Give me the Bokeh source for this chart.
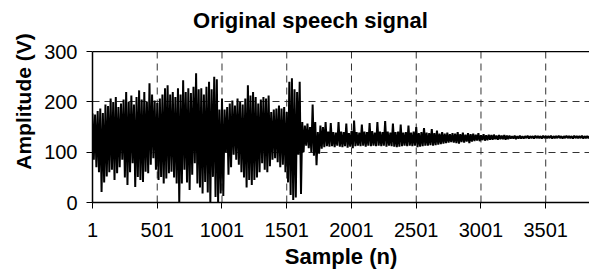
from bokeh.plotting import figure
from bokeh.models import FixedTicker, Range1d, Span, ColumnDataSource, Label
from bokeh.embed import file_html
from bokeh.resources import INLINE

# Chart data
title_text = "Original speech signal"
x_label = "Sample (n)"
y_label = "Amplitude (V)"
x_ticks = [1, 501, 1001, 1501, 2001, 2501, 3001, 3501]
y_ticks = [0, 100, 200, 300]
sample_step = 10  # one reading every 10 samples, starting at sample 1

# amplitude readings: alternating local peak / trough of the signal
amplitude = [
    177, 85, 175, 70, 182, 60, 187, 21, 178, 40, 195, 52, 192, 60, 207, 65,
    200, 45, 210, 58, 190, 70, 197, 85, 205, 50, 220, 35, 200, 60, 213, 78,
    195, 31, 210, 51, 223, 45, 205, 41, 220, 61, 200, 58, 237, 75, 215, 88,
    203, 65, 198, 45, 207, 51, 215, 38, 227, 48, 233, 58, 215, 61, 220, 50,
    210, 38, 227, 0, 215, 38, 243, 65, 220, 40, 227, 25, 218, 55, 230, 78,
    257, 38, 225, 30, 227, 18, 215, 41, 230, 20, 240, 0, 225, 51, 250, 11,
    245, 0, 185, 18, 207, 13, 185, 100, 190, 55, 197, 70, 203, 95, 193, 85,
    207, 75, 200, 60, 195, 50, 207, 30, 233, 45, 213, 35, 220, 45, 210, 50,
    197, 60, 205, 78, 210, 65, 207, 60, 213, 72, 180, 85, 185, 88, 187, 80,
    193, 70, 187, 75, 190, 60, 180, 40, 240, 15, 247, 5, 225, 10, 220, 95,
    240, 17, 160, 100, 153, 113, 157, 108, 150, 100, 195, 93, 160, 74, 140, 97,
    153, 107, 150, 110, 160, 112,
    141, 111, 158, 112, 140, 110, 139, 113, 160, 111, 141, 110, 140, 112,
    157, 109, 138, 111, 142, 108, 163, 112, 140, 113, 139, 112, 155, 113,
    141, 111, 140, 113, 158, 112, 142, 113, 139, 112, 160, 113, 141, 112,
    140, 113, 162, 111, 141, 113, 139, 112, 157, 111, 140, 110, 141, 111,
    155, 112, 139, 113, 140, 112, 153, 113, 139, 112, 141, 113, 150, 110,
    138, 111, 140, 112, 148, 113, 139, 113, 138, 114, 146, 113, 138, 114,
    143, 115, 137, 116, 140, 117, 137, 118, 139, 119, 136, 120, 138, 119,
    137, 118, 140, 117, 136, 120, 139, 119, 135, 121, 138, 118, 136, 121,
    137, 122, 135, 123, 138, 122, 134, 124, 136, 123, 134, 124, 135, 125,
    134, 125, 135, 126, 133, 125, 134, 126, 133, 126, 134, 125, 133, 126,
    133, 127, 132, 127, 133, 126, 132, 127, 133, 127, 132, 127, 132, 128,
    133, 127, 132, 128, 132, 127, 133, 128, 132, 128, 132, 127, 133, 128,
    132, 128, 132, 128, 133, 127, 132, 128, 132, 128, 133, 128, 132, 127,
    132, 128, 133, 128, 132, 128, 132, 127, 133, 128, 132, 128, 132, 128,
    133, 127, 132, 128, 132, 128, 132, 128,
]

samples = [1 + sample_step * i for i in range(len(amplitude))]
source = ColumnDataSource(data=dict(n=samples, v=amplitude))

FONT = "Liberation Sans"
y_max = y_ticks[-1]

# The frame reaches the top of the canvas; the part above 300 holds the title.
p = figure(
    width=589, height=277,
    output_backend="svg", toolbar_location=None,
    x_range=Range1d(1, 3839), y_range=Range1d(0, 401.8),
    min_border_left=92, min_border_right=0,
    min_border_top=0, min_border_bottom=75,
)
p.background_fill_color = "white"
p.border_fill_color = "white"
p.outline_line_color = None

# vertical dashed grid lines, only inside the 0..300 plot area
p.segment(x0=x_ticks[1:], y0=[0] * 7, x1=x_ticks[1:], y1=[y_max] * 7,
          line_color="#333333", line_width=1, line_dash="7 5", level="underlay")

p.line("n", "v", source=source, line_color="black", line_width=2.0)

# title
title_label = Label(
    x=1684, y=362, text=title_text,
    text_font=FONT, text_font_size="22px", text_font_style="bold",
    text_color="black", text_align="center", text_baseline="middle",
)
p.add_layout(title_label)

# axes
for ax in (p.xaxis[0], p.yaxis[0]):
    ax.axis_line_color = "black"
    ax.axis_line_width = 1.5
    ax.major_tick_line_color = "black"
    ax.major_tick_line_width = 1
    ax.major_tick_out = 6
    ax.major_tick_in = 0
    ax.minor_tick_line_color = None
    ax.major_label_text_font = FONT
    ax.major_label_text_font_size = "20px"
    ax.major_label_text_color = "black"
    ax.axis_label_text_font = FONT
    ax.axis_label_text_font_size = "21px"
    ax.axis_label_text_font_style = "bold"
    ax.axis_label_text_color = "black"

p.xaxis[0].axis_label_text_font_size = "22px"
p.xaxis[0].ticker = FixedTicker(ticks=x_ticks)
p.yaxis[0].ticker = FixedTicker(ticks=y_ticks)
p.yaxis[0].bounds = (0, y_max)
p.xaxis[0].axis_label = x_label
p.yaxis[0].axis_label = y_label
p.xaxis[0].major_label_standoff = 14
p.xaxis[0].axis_label_standoff = 4
p.yaxis[0].major_label_standoff = 9
p.yaxis[0].axis_label_standoff = 6

# grid
p.xgrid[0].visible = False
p.ygrid[0].ticker = FixedTicker(ticks=[100, 200])
p.ygrid[0].grid_line_color = "#333333"
p.ygrid[0].grid_line_width = 1
p.ygrid[0].grid_line_dash = "7 5"

top_line = Span(location=y_max, dimension="width", line_color="black", line_width=1.2)
p.add_layout(top_line)

open("out.html", "w").write(file_html(p, INLINE))
